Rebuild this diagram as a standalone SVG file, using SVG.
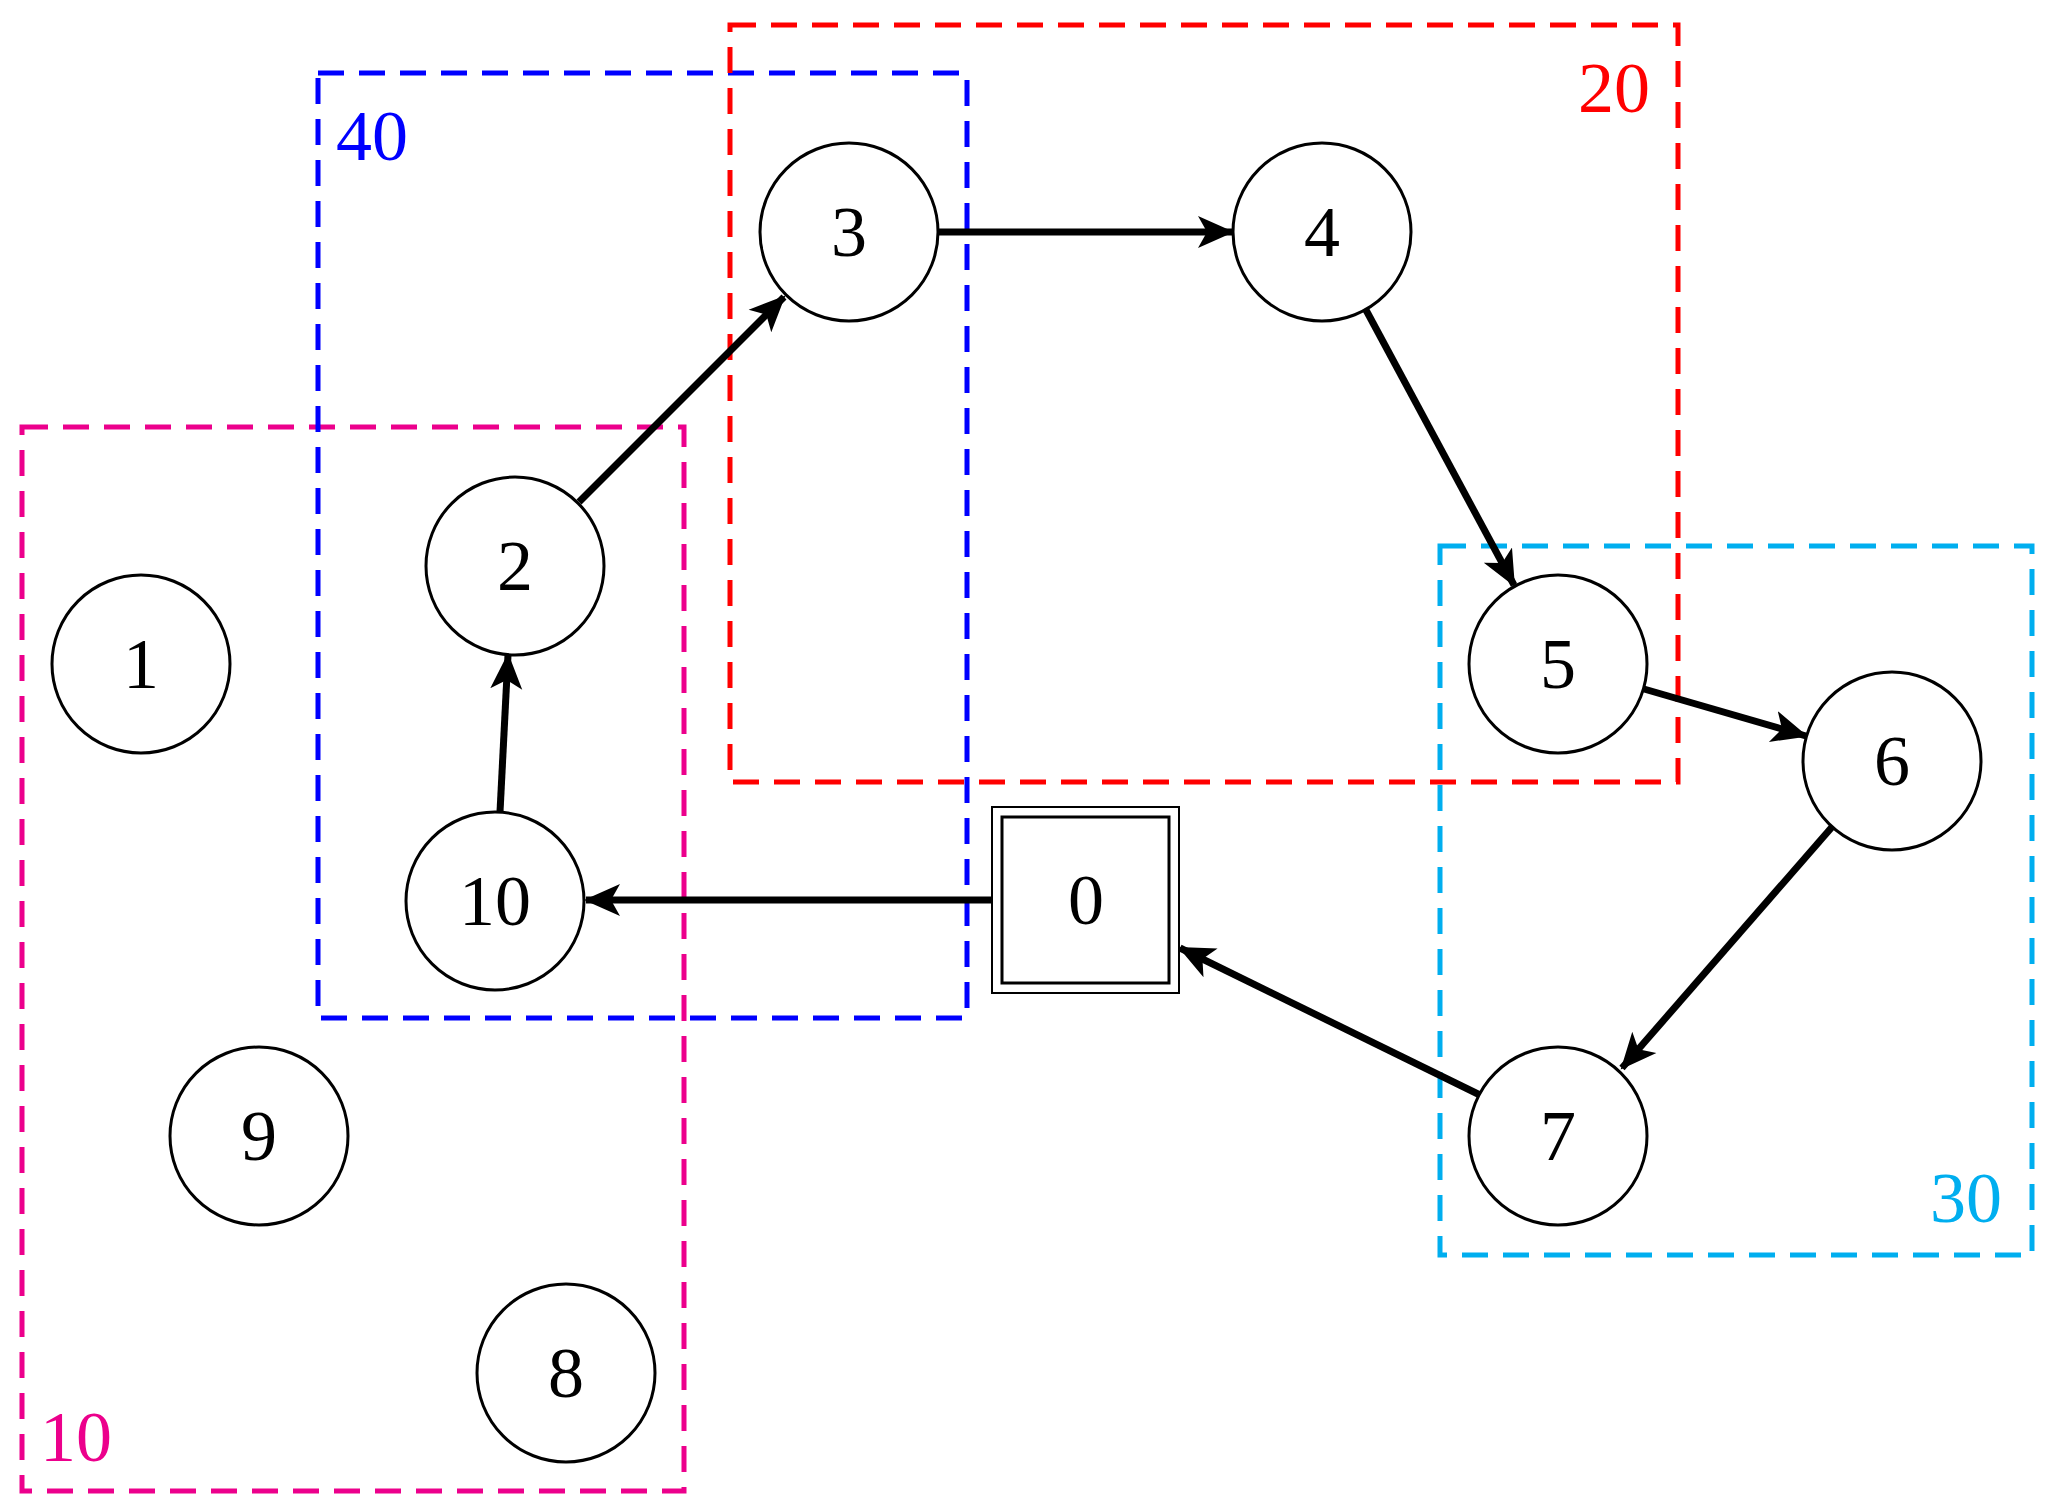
<svg xmlns="http://www.w3.org/2000/svg" width="2054" height="1512" viewBox="0 0 2054 1512">
<style>
.g{fill:none;stroke-width:5;stroke-dasharray:26 15}
.n{fill:#fff;stroke:#000;stroke-width:3}
.t{font-family:"Liberation Serif",serif;font-size:72px;text-anchor:middle}
.l{font-family:"Liberation Serif",serif;font-size:72px}
.e{stroke:#000;stroke-width:7;fill:none;marker-end:url(#a)}
</style>
<defs><marker id="a" markerUnits="userSpaceOnUse" markerWidth="40" markerHeight="40" refX="34" refY="16" orient="auto" viewBox="0 0 40 32"><path d="M0,0 L36,16 L0,32 L9,16 Z" fill="#000"/></marker></defs>
<rect width="2054" height="1512" fill="#fff"/>
<g id="groups">
<rect class="g" x="22" y="427" width="662" height="1064" stroke="#ec008c"/>
<rect class="g" x="318" y="73" width="649" height="945" stroke="#0000ff"/>
<rect class="g" x="730" y="25" width="948" height="757" stroke="#ff0000"/>
<rect class="g" x="1440" y="546" width="592" height="709" stroke="#00aeef"/>
<text class="l" x="336" y="160" fill="#0000ff">40</text>
<text class="l" x="1578" y="112" fill="#ff0000">20</text>
<text class="l" x="1930" y="1222" fill="#00aeef">30</text>
<text class="l" x="40" y="1461" fill="#ec008c">10</text>
</g>
<g id="edges">
<line class="e" x1="579" y1="502" x2="784" y2="297"/>
<line class="e" x1="938" y1="232" x2="1232" y2="232"/>
<line class="e" x1="1366" y1="310" x2="1514" y2="585"/>
<line class="e" x1="1644" y1="689" x2="1806" y2="736"/>
<line class="e" x1="1832" y1="827" x2="1622" y2="1068"/>
<line class="e" x1="1480" y1="1095" x2="1180" y2="948"/>
<line class="e" x1="997" y1="900" x2="586" y2="900"/>
<line class="e" x1="500" y1="812" x2="508" y2="655"/>
</g>
<g id="n1"><circle class="n" cx="141" cy="664" r="89"/><text class="t" x="141" y="688">1</text></g>
<g id="n2"><circle class="n" cx="515" cy="566" r="89"/><text class="t" x="515" y="590">2</text></g>
<g id="n3"><circle class="n" cx="849" cy="232" r="89"/><text class="t" x="849" y="256">3</text></g>
<g id="n4"><circle class="n" cx="1322" cy="232" r="89"/><text class="t" x="1322" y="256">4</text></g>
<g id="n5"><circle class="n" cx="1558" cy="664" r="89"/><text class="t" x="1558" y="688">5</text></g>
<g id="n6"><circle class="n" cx="1892" cy="761" r="89"/><text class="t" x="1892" y="785">6</text></g>
<g id="n7"><circle class="n" cx="1558" cy="1136" r="89"/><text class="t" x="1558" y="1160">7</text></g>
<g id="n8"><circle class="n" cx="566" cy="1373" r="89"/><text class="t" x="566" y="1397">8</text></g>
<g id="n9"><circle class="n" cx="259" cy="1136" r="89"/><text class="t" x="259" y="1160">9</text></g>
<g id="n10"><circle class="n" cx="495" cy="901" r="89"/><text class="t" x="495" y="925">10</text></g>
<g id="n0"><rect x="992" y="807" width="187" height="186" fill="#fff" stroke="#000" stroke-width="2"/><rect x="1002" y="817" width="167" height="166" fill="none" stroke="#000" stroke-width="3"/><text class="t" x="1086" y="924">0</text></g>
</svg>
